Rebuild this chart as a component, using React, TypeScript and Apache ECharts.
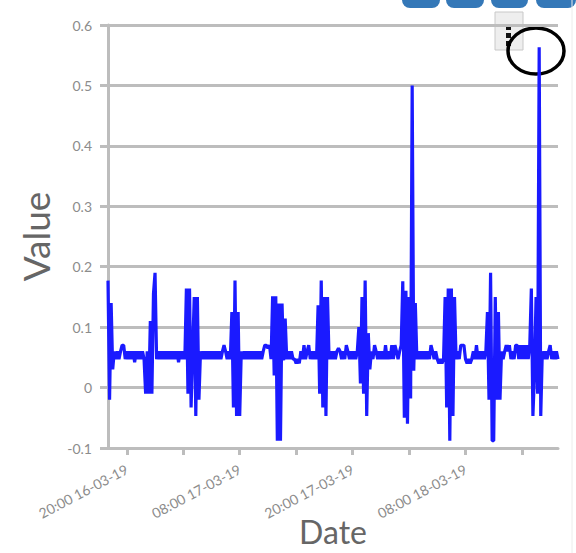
import React, { useEffect, useRef } from "react";
import * as echarts from "echarts";

// Readings every 10 minutes starting 18:00 16-03-19
const startTime = "2019-03-16T18:00:00Z";
const stepMinutes = 10;

// 18:00 - 23:50, 16-03-19
const day1Values = [
  0.177, -0.02, 0.14, 0.03, 0.06, 0.047, 0.06, 0.047, 0.06, 0.07, 0.07, 0.047,
  0.06, 0.047, 0.06, 0.047, 0.06, 0.042, 0.06, 0.047, 0.06, 0.047, 0.06, 0.047,
  -0.01, 0.06, -0.01, 0.11, -0.01, 0.155, 0.19, 0.047, 0.06, 0.047, 0.06, 0.047,
];

// 00:00 - 23:50, 17-03-19
const day2Values = [
  0.06, 0.047, 0.06, 0.047, 0.06, 0.047, 0.06, 0.047, 0.06, 0.042, 0.06, 0.047,
  0.06, 0.047, 0.164, -0.01, 0.164, -0.033, 0.06, 0.15, -0.047, 0.15, -0.02, 0.06,
  0.047, 0.06, 0.047, 0.06, 0.047, 0.06, 0.047, 0.06, 0.047, 0.06, 0.047, 0.06,
  0.047, 0.06, 0.07, 0.06, 0.047, 0.06, 0.047, 0.125, -0.033, 0.177, -0.047, 0.125,
  -0.047, 0.06, 0.047, 0.06, 0.047, 0.06, 0.047, 0.06, 0.047, 0.06, 0.047, 0.06,
  0.047, 0.06, 0.047, 0.06, 0.07, 0.07, 0.065, 0.07, 0.047, 0.151, 0.02, 0.151,
  -0.088, 0.139, -0.088, 0.139, 0.045, 0.114, 0.047, 0.06, 0.047, 0.06, 0.047, 0.047,
  0.04, 0.047, 0.04, 0.06, 0.047, 0.07, 0.047, 0.06, 0.07, 0.047, 0.06, 0.047,
  0.06, 0.047, 0.136, -0.01, 0.177, -0.033, 0.15, -0.047, 0.15, 0.047, 0.06, 0.047,
  0.06, 0.047, 0.06, 0.065, 0.06, 0.047, 0.06, 0.047, 0.07, 0.06, 0.047, 0.06,
  0.047, 0.06, 0.047, 0.06, 0.1, 0.007, 0.15, -0.01, 0.177, -0.047, 0.09, 0.03,
  0.06, 0.047, 0.07, 0.06, 0.047, 0.06, 0.047, 0.06, 0.047, 0.07, 0.047, 0.06,
];

// 00:00 - 17:50, 18-03-19
const day3Values = [
  0.047, 0.07, 0.047, 0.07, 0.06, 0.047, 0.06, 0.07, 0.176, -0.05, 0.16, -0.06,
  0.15, -0.018, 0.5, 0.028, 0.14, 0.047, 0.06, 0.047, 0.06, 0.047, 0.06, 0.047,
  0.06, 0.047, 0.07, 0.06, 0.047, 0.06, 0.047, 0.04, 0.047, 0.04, 0.047, 0.15,
  -0.033, 0.164, -0.088, 0.164, -0.047, 0.15, 0.047, 0.06, 0.047, 0.07, 0.07, 0.07,
  0.047, 0.04, 0.047, 0.04, 0.047, 0.06, 0.047, 0.07, 0.047, 0.06, 0.047, 0.06,
  0.047, 0.06, 0.125, -0.02, 0.19, -0.088, -0.088, 0.15, -0.02, 0.125, -0.02, 0.06,
  0.047, 0.06, 0.07, 0.06, 0.07, 0.047, 0.06, 0.047, 0.07, 0.07, 0.047, 0.07,
  0.047, 0.07, 0.047, 0.07, 0.047, 0.07, 0.164, -0.047, 0.023, 0.15, -0.01, 0.563,
  -0.047, 0.06, 0.047, 0.06, 0.047, 0.06, 0.07, 0.047, 0.06, 0.047, 0.06, 0.047,
];

const tickTimes = [
  "2019-03-16T20:00:00Z",
  "2019-03-17T02:00:00Z",
  "2019-03-17T08:00:00Z",
  "2019-03-17T14:00:00Z",
  "2019-03-17T20:00:00Z",
  "2019-03-18T02:00:00Z",
  "2019-03-18T08:00:00Z",
  "2019-03-18T14:00:00Z",
];
const labelTimes = [
  "2019-03-16T20:00:00Z",
  "2019-03-17T08:00:00Z",
  "2019-03-17T20:00:00Z",
  "2019-03-18T08:00:00Z",
];

const yTicks = { min: -0.1, max: 0.6, interval: 0.1 };

const pad = (n: number) => (n < 10 ? "0" + n : "" + n);
const fmt = (v: number) => {
  const d = new Date(v);
  return (
    pad(d.getUTCHours()) + ":" + pad(d.getUTCMinutes()) + " " +
    pad(d.getUTCDate()) + "-" + pad(d.getUTCMonth() + 1) + "-" +
    pad(d.getUTCFullYear() % 100)
  );
};

export default function App() {
  const ref = useRef<HTMLDivElement>(null);
  useEffect(() => {
    if (!ref.current) return;
    const chart = echarts.init(ref.current, undefined, { renderer: "svg" });
    const values = [...day1Values, ...day2Values, ...day3Values];
    const t0 = Date.parse(startTime);
    const step = stepMinutes * 60 * 1000;
    const data = values.map((v, i) => [t0 + i * step, v]);
    const gridColor = "#bdbdbd";
    const font = "Lato, 'Open Sans', sans-serif";
    chart.setOption({
      animation: false,
      backgroundColor: "#ffffff",
      grid: { left: 108, right: 18, top: 25, bottom: 105, outerBoundsMode: "none" },
      xAxis: {
        type: "value",
        min: t0,
        max: t0 + (values.length - 1) * step,
        name: "Date",
        nameLocation: "middle",
        nameGap: 67,
        nameMoveOverlap: false,
        nameTextStyle: { fontSize: 32, color: "#666666", fontFamily: font },
        axisLine: { show: true, onZero: false, lineStyle: { color: gridColor, width: 3 } },
        axisTick: {
          show: true,
          length: 7,
          lineStyle: { color: gridColor, width: 3 },
          customValues: tickTimes.map((s) => Date.parse(s)),
        },
        axisLabel: {
          rotate: 28,
          margin: 20,
          fontSize: 14,
          color: "#8c8c8c",
          fontFamily: font,
          customValues: labelTimes.map((s) => Date.parse(s)),
          formatter: (v: number) => fmt(v),
        },
        splitLine: { show: false },
      },
      yAxis: {
        type: "value",
        min: yTicks.min,
        max: yTicks.max,
        interval: yTicks.interval,
        name: "Value",
        nameLocation: "middle",
        nameGap: 54,
        nameMoveOverlap: false,
        nameTextStyle: { fontSize: 37, color: "#666666", fontFamily: font },
        axisLine: { show: true, lineStyle: { color: gridColor, width: 3 } },
        axisTick: { show: true, length: 8, lineStyle: { color: gridColor, width: 3 } },
        axisLabel: {
          margin: 16,
          fontSize: 14,
          color: "#8c8c8c",
          fontFamily: font,
          formatter: (v: number) => String(Math.round(v * 10) / 10),
        },
        splitLine: { show: true, lineStyle: { color: gridColor, width: 3 } },
      },
      series: [
        {
          type: "line",
          data,
          showSymbol: false,
          symbol: "none",
          lineStyle: { color: "#1a1aff", width: 3.2 },
          itemStyle: { color: "#1a1aff" },
        },
      ],
      graphic: [
        { type: "rect", shape: { x: 402, y: -12, width: 38, height: 20, r: 8 }, style: { fill: "#3478b8" } },
        { type: "rect", shape: { x: 446, y: -12, width: 38, height: 20, r: 8 }, style: { fill: "#3478b8" } },
        { type: "rect", shape: { x: 491, y: -12, width: 37, height: 20, r: 8 }, style: { fill: "#3478b8" } },
        { type: "rect", shape: { x: 536, y: -12, width: 40, height: 20, r: 8 }, style: { fill: "#3478b8" } },
        { type: "line", shape: { x1: 572, y1: 0, x2: 572, y2: 553 }, style: { stroke: "#ececec", lineWidth: 1 } },
        {
          type: "rect",
          shape: { x: 495, y: 12, width: 28, height: 38 },
          style: { fill: "#eeeeee", stroke: "#c8c8c8", lineWidth: 1 },
        },
        { type: "rect", shape: { x: 506, y: 25, width: 5, height: 5 }, style: { fill: "#111111" } },
        { type: "rect", shape: { x: 506, y: 33, width: 5, height: 5 }, style: { fill: "#111111" } },
        { type: "rect", shape: { x: 506, y: 41, width: 5, height: 5 }, style: { fill: "#111111" } },
        {
          type: "ellipse",
          shape: { cx: 536, cy: 51, rx: 28, ry: 23 },
          style: { fill: "none", stroke: "#000000", lineWidth: 3.5 },
        },
      ],
    });
    return () => chart.dispose();
  }, []);
  return (
    <div
      ref={ref}
      style={{ position: "absolute", left: 0, top: 0, width: 576, height: 553 }}
    />
  );
}
